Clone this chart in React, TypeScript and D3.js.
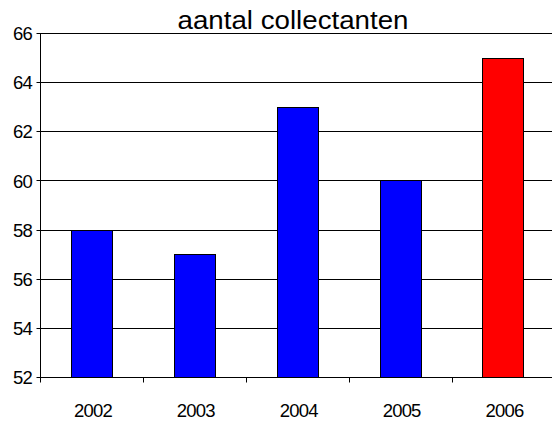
import React from "react";
import * as d3 from "d3";

const title = "aantal collectanten";
const years = ["2002", "2003", "2004", "2005", "2006"];
const values = [58, 57, 63, 60, 65];
const barColors = ["#0000FF", "#0000FF", "#0000FF", "#0000FF", "#FF0000"];
const yTicks = [52, 54, 56, 58, 60, 62, 64, 66];

const W = 552;
const H = 423;
const left = 40.5;
const right = 555;
const top = 33.5;
const bottom = 377.5;
const FONT = "'Liberation Sans', Arial, sans-serif";

export default function App() {
  const x = d3
    .scaleBand<string>()
    .domain(years)
    .range([left, right])
    .paddingInner(0.6)
    .paddingOuter(0.3);
  const y = d3.scaleLinear().domain([52, 66]).range([bottom, top]);
  const step = x.step();
  const crisp = (v: number) => Math.round(v - 0.5) + 0.5;

  return (
    <svg
      width={W}
      height={H}
      style={{ position: "absolute", left: 0, top: 0, background: "#fff" }}
      fontFamily={FONT}
    >
      <rect x={0} y={0} width={W} height={H} fill="#fff" />
      <text
        x={293}
        y={29}
        textAnchor="middle"
        fontSize={26.5}
        textLength={231}
        lengthAdjust="spacingAndGlyphs"
        fill="#000"
      >
        {title}
      </text>
      {yTicks.map((t) => (
        <g key={t}>
          <line
            x1={left - 4}
            x2={W}
            y1={crisp(y(t))}
            y2={crisp(y(t))}
            stroke="#000"
            strokeWidth={1}
          />
          <text
            x={32}
            y={y(t) + 6.6}
            textAnchor="end"
            fontSize={18.5}
            letterSpacing={-0.8}
            fill="#000"
          >
            {t}
          </text>
        </g>
      ))}
      {years.map((yr, i) => {
        const x0 = x(yr)!;
        const bw = x.bandwidth();
        const yTop = y(values[i]);
        return (
          <rect
            key={yr}
            x={crisp(x0)}
            y={crisp(yTop)}
            width={Math.round(bw)}
            height={crisp(bottom) - crisp(yTop)}
            fill={barColors[i]}
            stroke="#000"
            strokeWidth={1}
          />
        );
      })}
      <line x1={left} x2={left} y1={top} y2={bottom} stroke="#000" />
      <line x1={left} x2={W} y1={bottom} y2={bottom} stroke="#000" />
      {years.map((yr) => {
        const bx = crisp(x(yr)! + x.bandwidth() / 2 - step / 2);
        return (
          <line
            key={"t" + yr}
            x1={bx}
            x2={bx}
            y1={bottom}
            y2={bottom + 5}
            stroke="#000"
          />
        );
      })}
      {years.map((yr) => (
        <text
          key={"l" + yr}
          x={x(yr)! + x.bandwidth() / 2 + 1}
          y={416.5}
          textAnchor="middle"
          fontSize={18.5}
          letterSpacing={-0.8}
          fill="#000"
        >
          {yr}
        </text>
      ))}
    </svg>
  );
}
